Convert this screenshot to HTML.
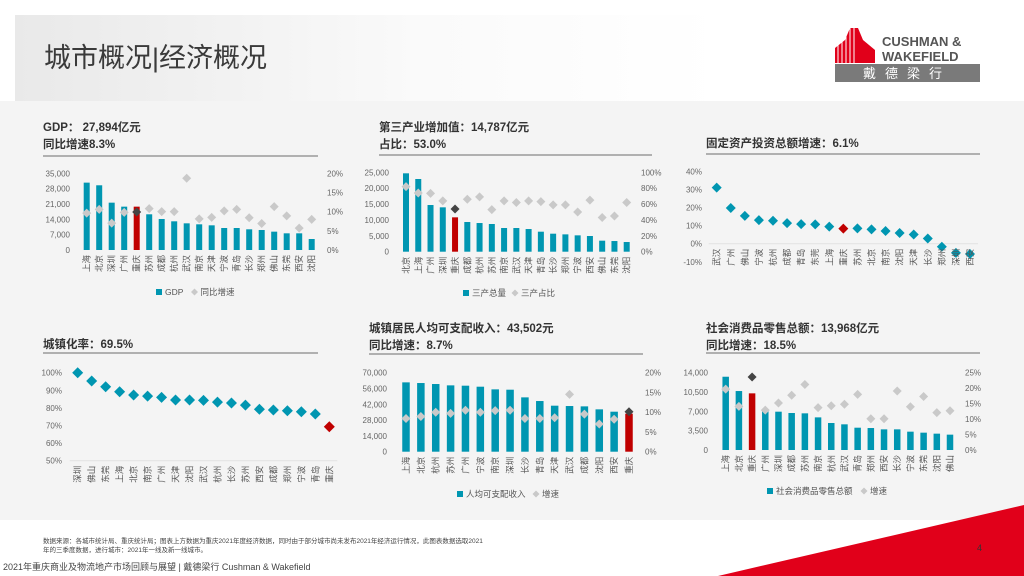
<!DOCTYPE html>
<html><head><meta charset="utf-8">
<style>
body{margin:0;width:1024px;height:576px;overflow:hidden;background:#fff;font-family:"Liberation Sans","Noto Sans CJK SC",sans-serif;position:relative}
#hdr{position:absolute;left:15px;top:15px;width:1009px;height:86px;background:linear-gradient(90deg,#e9e9e9,#fafafa 40%,#fff 70%)}
#title{position:absolute;left:44px;top:36px;font-size:27px;color:#3a3a3a;letter-spacing:0px}
#body{position:absolute;left:0;top:101px;width:1024px;height:419px;background:#f4f4f4}
svg{position:absolute;left:0;top:0}
</style></head><body>
<div id="hdr"></div>
<div id="title">城市概况|经济概况</div>
<div id="body"></div>
<svg id="main" width="1024" height="576">
<g>
<polygon points="835,63 835,48 845,40 850,28 858,28 863,40 875,50 875,63" fill="#e1001a"/>
<g stroke="#fff" stroke-width="1"><line x1="838" y1="40" x2="838" y2="63"/><line x1="842" y1="40" x2="842" y2="63"/><line x1="846" y1="35" x2="846" y2="63"/><line x1="850" y1="28" x2="850" y2="63"/><line x1="854" y1="28" x2="854" y2="63"/></g>
<text x="882" y="46" font-size="13" font-weight="bold" fill="#555">CUSHMAN &amp;</text>
<text x="882" y="61" font-size="13" font-weight="bold" fill="#555">WAKEFIELD</text>
<rect x="835" y="64" width="145" height="18" fill="#7a7a7a"/>
<text x="907" y="78" font-size="13" fill="#fff" text-anchor="middle" letter-spacing="9" font-family="Noto Sans CJK SC,sans-serif">戴德梁行</text>
</g>
<polygon points="718,576 1024,505 1024,576" fill="#e1001a"/>
<text x="43" y="543" font-size="6.5" fill="#444">数据来源：各城市统计局、重庆统计局；图表上方数据为重庆2021年度经济数据，同时由于部分城市尚未发布2021年经济运行情况，此图表数据选取2021</text>
<text x="43" y="552" font-size="6.5" fill="#444">年的三季度数据，进行城市：2021年一线及新一线城市。</text>
<text x="3" y="570" font-size="9" fill="#444">2021年重庆商业及物流地产市场回顾与展望 | 戴德梁行 Cushman &amp; Wakefield</text>
<text x="977" y="551" font-size="9" fill="#333">4</text>
</svg>
<script>
// ---- Data ----
const gdpCities=["上海","北京","深圳","广州","重庆","苏州","成都","杭州","武汉","南京","天津","宁波","青岛","长沙","郑州","佛山","东莞","西安","沈阳"];
const gdpValues=[30740,29530,21600,19780,19780,16290,14150,13090,12170,11720,11260,10040,10040,9440,9130,8370,7610,7610,5020];
const gdpGrowth=[9.6,10.6,7.0,9.8,9.9,10.8,10.0,10.0,18.7,8.1,8.5,10.2,10.6,8.4,6.9,11.3,8.9,5.7,8.0];
const gdpTicksL=["0","7,000","14,000","21,000","28,000","35,000"];
const gdpTicksR=["0%","5%","10%","15%","20%"];

const terCities=["北京","上海","广州","深圳","重庆","成都","杭州","苏州","南京","武汉","天津","青岛","长沙","郑州","宁波","西安","佛山","东莞","沈阳"];
const terValues=[24680,22890,14700,13970,10820,9350,9030,8720,7460,7460,7140,6300,5670,5460,5150,4940,3470,3360,3050];
const terShare=[82,74,73.5,64,53.8,66,69,53,64,62,64,63,59,59,50,65,43,45,62];
const terTicksL=["0","5,000","10,000","15,000","20,000","25,000"];
const terTicksR=["0%","20%","40%","60%","80%","100%"];

const faiCities=["武汉","广州","佛山","宁波","杭州","成都","青岛","东莞","上海","重庆","苏州","北京","南京","沈阳","天津","长沙","郑州","深圳","西安"];
const faiGrowth=[31,19.7,15.4,13,12.7,11.4,10.8,10.7,9.4,8.3,8.5,7.9,7.0,5.9,5.1,2.9,-1.7,-5.1,-5.7];
const faiTicks=["-10%","0%","10%","20%","30%","40%"];

const urbCities=["深圳","佛山","东莞","上海","北京","南京","广州","天津","沈阳","武汉","杭州","长沙","苏州","西安","成都","郑州","宁波","青岛","重庆"];
const urbRate=[100,95.3,92,89.2,87.3,86.7,86,84.5,84.5,84.3,83.3,82.8,81.6,79.2,78.8,78.4,77.8,76.5,69.3];
const urbTicks=["50%","60%","70%","80%","90%","100%"];

const incCities=["上海","北京","杭州","苏州","广州","宁波","南京","深圳","长沙","青岛","天津","武汉","成都","沈阳","西安","重庆"];
const incValues=[61440,60850,59970,58780,58490,57600,55240,54940,48150,44900,40770,40470,40170,37520,35450,33680];
const incGrowth=[8.4,8.9,10,9.7,10.5,10,10.4,10.5,8.4,8.4,8.6,14.5,9.5,7.0,8.2,10.1];
const incTicksL=["0","14,000","28,000","42,000","56,000","70,000"];
const incTicksR=["0%","5%","10%","15%","20%"];

const retCities=["上海","北京","重庆","广州","深圳","成都","苏州","南京","杭州","武汉","青岛","郑州","西安","长沙","宁波","东莞","沈阳","佛山"];
const retValues=[13270,10680,10260,7120,6940,6700,6640,5910,4890,4650,4040,3980,3740,3740,3320,3140,2960,2780];
const retGrowth=[19.7,14.1,23.6,12.9,15.2,17.7,21.2,13.7,14.3,14.8,18,10.1,10.1,19.1,14,17.3,12.1,12.7];
const retTicksL=["0","3,500","7,000","10,500","14,000"];
const retTicksR=["0%","5%","10%","15%","20%","25%"];

const TEAL="#0096b1",RED="#c00000",LG="#c9c9c9",DG="#444";
const svg=document.getElementById('main');
const NS="http://www.w3.org/2000/svg";
function mk(tag,attrs,parent){const e=document.createElementNS(NS,tag);for(const k in attrs)e.setAttribute(k,attrs[k]);(parent||svg).appendChild(e);return e;}
function diamond(cx,cy,r,fill,g){return mk('polygon',{points:`${cx},${cy-r} ${cx+r},${cy} ${cx},${cy+r} ${cx-r},${cy}`,fill:fill},g);}

function titleBlock(name,x,lines,uy,ux2){
  const g=mk('g',{});
  
  
  lines.forEach((l,i)=>{
    const t=mk('text',{x:x,y:l[1],'font-size':11.5,fill:'#333','font-weight':'bold'},g);
    t.textContent=l[0];
    
    
  });
  const ln=mk('line',{x1:x,y1:uy,x2:ux2,y2:uy,stroke:'#999','stroke-width':1.5},g);
  
  
}

function chart(o){
  const g=mk('g',{});
  
  
  const n=o.cats.length;
  const step=(o.xLast-o.xFirst)/(n-1);
  const xs=i=>o.xFirst+i*step;
  const yL=v=>o.y0+(v-o.lMin)/(o.lMax-o.lMin)*(o.yTop-o.y0);
  const yR=v=>o.y0+(v-o.rMin)/(o.rMax-o.rMin)*(o.yTop-o.y0);
  o.ticksL.forEach((t,i)=>{
    const v=o.lMin+i*(o.lMax-o.lMin)/(o.ticksL.length-1);
    const e=mk('text',{x:o.lx,y:yL(v)+3,'font-size':8,fill:'#666','text-anchor':'end'},g);
    e.textContent=t;
    
    
  });
  if(o.ticksR){o.ticksR.forEach((t,i)=>{
    const v=o.rMin+i*(o.rMax-o.rMin)/(o.ticksR.length-1);
    const e=mk('text',{x:o.rx,y:yR(v)+3,'font-size':8,fill:'#666'},g);
    e.textContent=t;
    
    
  });}
  if(o.zeroLine!==undefined){
    const z=mk('line',{x1:xs(0)-8,x2:xs(n-1)+8,y1:yL(o.zeroLine),y2:yL(o.zeroLine),stroke:'#e2e2e2','stroke-width':1},g);
    
    
  }
  o.cats.forEach((c,i)=>{
    const hi=c===o.hl;
    if(o.bars){
      const top=yL(o.bars[i]);
      const r=mk('rect',{x:xs(i)-o.bw/2,y:top,width:o.bw,height:o.y0-top,fill:hi?RED:TEAL},g);
      
      
    }
    if(o.pts){
      const yy=o.ptsLeft?yL(o.pts[i]):yR(o.pts[i]);
      const d=diamond(xs(i),yy,o.dr,hi?(o.bars?DG:RED):(o.bars?LG:TEAL),g);
      
      
    }
    const t=mk('text',{x:0,y:0,'font-size':8.5,fill:'#555','text-anchor':'end',transform:`translate(${xs(i)+3},${o.y0+5}) rotate(-90)`},g);
    t.textContent=c;
    
    
  });
  if(o.legend){
    let lx=o.legend.x;
    const ly=o.legend.y;
    const s=mk('rect',{x:lx,y:ly-6,width:6,height:6,fill:TEAL},g);
    
    
    const t1=mk('text',{x:lx+9,y:ly,'font-size':8.5,fill:'#555'},g);
    t1.textContent=o.legend.a;
    
    
    const lx2=lx+16+o.legend.a.length*o.legend.w;
    const d=diamond(lx2,ly-3,3.5,LG,g);
    
    
    const t2=mk('text',{x:lx2+6,y:ly,'font-size':8.5,fill:'#555'},g);
    t2.textContent=o.legend.b;
    
    
  }
}

titleBlock('gdp',43,[["GDP： 27,894亿元",131],["同比增速8.3%",148]],156,318);
chart({name:'gdp',cats:gdpCities,bars:gdpValues,pts:gdpGrowth,hl:'重庆',xFirst:86.7,xLast:311.7,bw:6,dr:4.5,
 y0:250,yTop:173.3,lMin:0,lMax:35000,rMin:0,rMax:20,ticksL:gdpTicksL,ticksR:gdpTicksR,lx:70,rx:327,
 legend:{x:156,y:295,a:"GDP",w:7.5,b:"同比增速"}});

titleBlock('tertiary',379,[["第三产业增加值：14,787亿元",131],["占比：53.0%",148]],155,652);
chart({name:'tertiary',cats:terCities,bars:terValues,pts:terShare,hl:'重庆',xFirst:406,xLast:626.7,bw:6,dr:4.5,
 y0:251.7,yTop:172.3,lMin:0,lMax:25000,rMin:0,rMax:100,ticksL:terTicksL,ticksR:terTicksR,lx:389,rx:641,
 legend:{x:463,y:296,a:"三产总量",w:9,b:"三产占比"}});

titleBlock('fai',706,[["固定资产投资总额增速：6.1%",147]],154,980);
chart({name:'fai',cats:faiCities,pts:faiGrowth,ptsLeft:true,hl:'重庆',xFirst:716.7,xLast:970,dr:5,
 y0:243.7,yTop:171.3,lMin:0,lMax:40,ticksL:faiTicks.slice(1),lx:702,zeroLine:0});
(function(){const e=mk('text',{x:702,y:265,'font-size':8,fill:'#666','text-anchor':'end'});e.textContent=faiTicks[0];

})();

titleBlock('urbanization',43,[["城镇化率：69.5%",348]],353,318);
chart({name:'urbanization',cats:urbCities,pts:urbRate,ptsLeft:true,hl:'重庆',xFirst:77.7,xLast:329.3,dr:5.5,
 y0:460.7,yTop:372.7,lMin:50,lMax:100,ticksL:urbTicks,lx:62,zeroLine:50});

titleBlock('income',369,[["城镇居民人均可支配收入：43,502元",332],["同比增速：8.7%",349]],354,643);
chart({name:'income',cats:incCities,bars:incValues,pts:incGrowth,hl:'重庆',xFirst:406,xLast:629,bw:7.5,dr:4.5,
 y0:451.7,yTop:372.7,lMin:0,lMax:70000,rMin:0,rMax:20,ticksL:incTicksL,ticksR:incTicksR,lx:387,rx:645,
 legend:{x:457,y:497,a:"人均可支配收入",w:9,b:"增速"}});

titleBlock('retail',706,[["社会消费品零售总额：13,968亿元",332],["同比增速：18.5%",349]],353,980);
chart({name:'retail',cats:retCities,bars:retValues,pts:retGrowth,hl:'重庆',xFirst:725.7,xLast:950,bw:6.5,dr:4.5,
 y0:450,yTop:372.7,lMin:0,lMax:14000,rMin:0,rMax:25,ticksL:retTicksL,ticksR:retTicksR,lx:708,rx:965,
 legend:{x:767,y:494,a:"社会消费品零售总额",w:9,b:"增速"}});
</script>
</body></html>
